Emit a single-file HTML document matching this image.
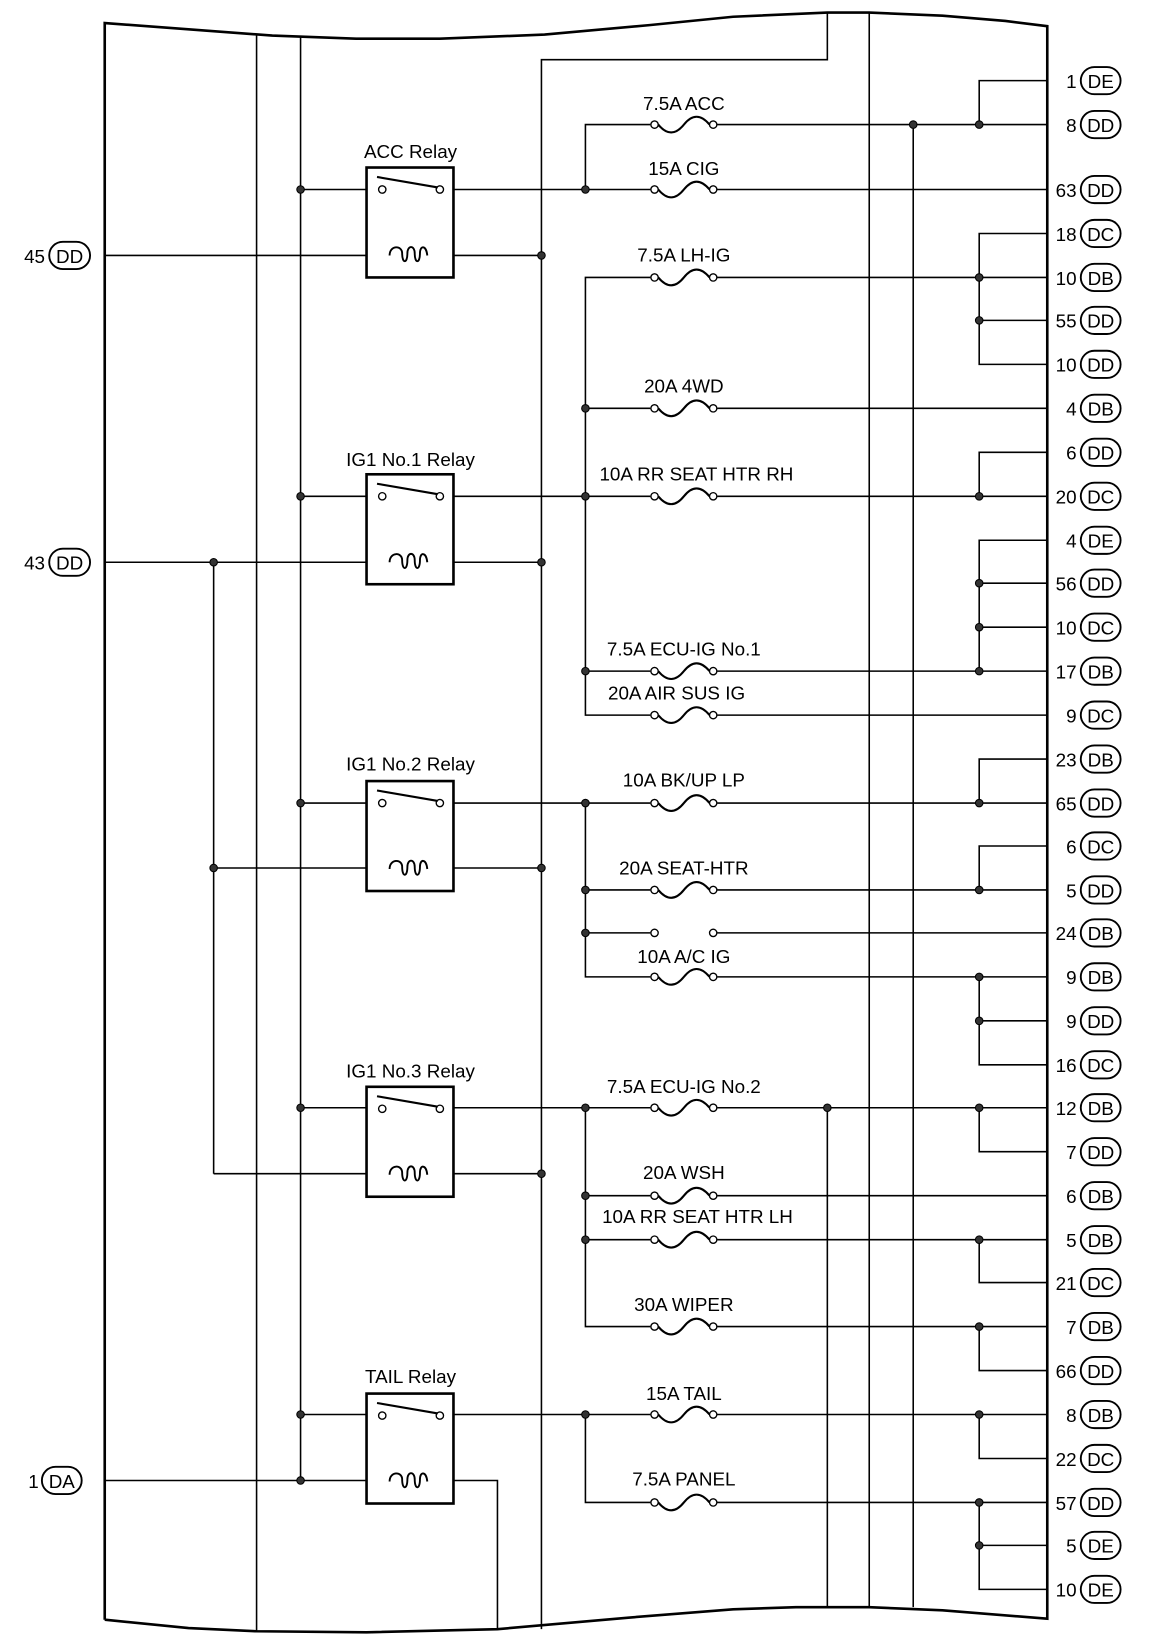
<!DOCTYPE html>
<html><head><meta charset="utf-8"><style>
html,body{margin:0;padding:0;background:#fff;width:1152px;height:1648px;overflow:hidden}
svg{display:block}
text{font-family:"Liberation Sans",sans-serif;font-size:18px;fill:#000}
</style></head><body>
<svg width="1152" height="1648" viewBox="0 0 1100 1574" preserveAspectRatio="none" xmlns="http://www.w3.org/2000/svg">
<defs>
<g id="fuse"><circle cx="625" cy="0" r="3.5" fill="#fff" stroke="#000" stroke-width="1.3"/><circle cx="681" cy="0" r="3.5" fill="#fff" stroke="#000" stroke-width="1.3"/><path d="M628.5,0 Q641,15 653,0 Q665,-15 677.5,0" fill="none" stroke="#000" stroke-width="2"/></g>
<circle id="dot" r="3.6" fill="#333" stroke="#000" stroke-width="1"/>
<g id="relay">
<rect x="350" y="0" width="83" height="105" fill="#fff" stroke="#000" stroke-width="2.5"/>
<circle cx="365" cy="21" r="3.5" fill="#fff" stroke="#000" stroke-width="1.3"/>
<circle cx="420" cy="21" r="3.5" fill="#fff" stroke="#000" stroke-width="1.3"/>
<line x1="360" y1="9" x2="418" y2="19" stroke="#000" stroke-width="2"/>
<path d="M372,84 C372,74 384,74 384,82 C384,92 389,92 389,82 C389,74 396,74 396,82 C396,92 401,92 401,82 C401,74 407,74 408,84" fill="none" stroke="#000" stroke-width="1.8"/>
</g>
</defs>
<g fill="none" stroke="#000">
<polyline stroke-width="2.5" points="100,1547 100,22 180,28 260,34 340,37 420,37 520,33 620,24 700,16 790,12 830,12 900,15 960,20 1000,25 1000,1546 900,1538 830,1535 760,1535 700,1537 600,1545 475,1556 350,1559 245,1558 180,1555 100,1547"/>
<g stroke-width="1.5">
<line x1="245" y1="33" x2="245" y2="1558"/>
<line x1="287" y1="35" x2="287" y2="1414"/>
<polyline points="517,1556 517,57 790,57 790,12"/>
<line x1="830" y1="12" x2="830" y2="1535"/>
<line x1="872" y1="119" x2="872" y2="1535"/>
<line x1="790" y1="1058" x2="790" y2="1535"/>
<line x1="204" y1="537" x2="204" y2="1121"/>
<polyline points="433,1414 475,1414 475,1556"/>
<line x1="287" y1="181" x2="361" y2="181"/><line x1="424" y1="181" x2="621" y2="181"/><line x1="685" y1="181" x2="1000" y2="181"/>
<line x1="100" y1="244" x2="372" y2="244"/><line x1="407" y1="244" x2="517" y2="244"/>
<polyline points="621,119 559,119 559,181"/><line x1="685" y1="119" x2="1000" y2="119"/>
<polyline points="935,119 935,77 1000,77"/>
<polyline points="621,265 559,265 559,683 621,683"/><line x1="685" y1="265" x2="1000" y2="265"/>
<polyline points="1000,223 935,223 935,348 1000,348"/><line x1="935" y1="306" x2="1000" y2="306"/>
<line x1="559" y1="390" x2="621" y2="390"/><line x1="685" y1="390" x2="1000" y2="390"/>
<line x1="287" y1="474" x2="361" y2="474"/><line x1="424" y1="474" x2="621" y2="474"/><line x1="685" y1="474" x2="1000" y2="474"/>
<polyline points="935,474 935,432 1000,432"/>
<line x1="100" y1="537" x2="372" y2="537"/><line x1="407" y1="537" x2="517" y2="537"/>
<polyline points="1000,516 935,516 935,641"/><line x1="935" y1="557" x2="1000" y2="557"/><line x1="935" y1="599" x2="1000" y2="599"/>
<line x1="559" y1="641" x2="621" y2="641"/><line x1="685" y1="641" x2="1000" y2="641"/>
<line x1="685" y1="683" x2="1000" y2="683"/>
<line x1="287" y1="767" x2="361" y2="767"/><line x1="424" y1="767" x2="621" y2="767"/><line x1="685" y1="767" x2="1000" y2="767"/>
<polyline points="935,767 935,725 1000,725"/>
<line x1="204" y1="829" x2="372" y2="829"/><line x1="407" y1="829" x2="517" y2="829"/>
<polyline points="559,767 559,933 621,933"/>
<line x1="559" y1="850" x2="621" y2="850"/><line x1="685" y1="850" x2="1000" y2="850"/>
<polyline points="935,850 935,808 1000,808"/>
<line x1="559" y1="891" x2="621" y2="891"/><line x1="685" y1="891" x2="1000" y2="891"/>
<line x1="685" y1="933" x2="1000" y2="933"/>
<polyline points="935,933 935,1017 1000,1017"/><line x1="935" y1="975" x2="1000" y2="975"/>
<line x1="287" y1="1058" x2="361" y2="1058"/><line x1="424" y1="1058" x2="621" y2="1058"/><line x1="685" y1="1058" x2="1000" y2="1058"/>
<polyline points="935,1058 935,1100 1000,1100"/>
<line x1="204" y1="1121" x2="372" y2="1121"/><line x1="407" y1="1121" x2="517" y2="1121"/>
<polyline points="559,1058 559,1267 621,1267"/>
<line x1="559" y1="1142" x2="621" y2="1142"/><line x1="685" y1="1142" x2="1000" y2="1142"/>
<line x1="559" y1="1184" x2="621" y2="1184"/><line x1="685" y1="1184" x2="1000" y2="1184"/>
<polyline points="935,1184 935,1225 1000,1225"/>
<line x1="685" y1="1267" x2="1000" y2="1267"/>
<polyline points="935,1267 935,1309 1000,1309"/>
<line x1="287" y1="1351" x2="361" y2="1351"/><line x1="424" y1="1351" x2="621" y2="1351"/><line x1="685" y1="1351" x2="1000" y2="1351"/>
<polyline points="935,1351 935,1393 1000,1393"/>
<line x1="100" y1="1414" x2="372" y2="1414"/>
<polyline points="559,1351 559,1435 621,1435"/><line x1="685" y1="1435" x2="1000" y2="1435"/>
<polyline points="935,1435 935,1518 1000,1518"/><line x1="935" y1="1476" x2="1000" y2="1476"/>
</g>
</g>
<use href="#relay" y="160"/><use href="#relay" y="453"/><use href="#relay" y="746"/><use href="#relay" y="1038"/><use href="#relay" y="1331"/>
<text x="392" y="151" text-anchor="middle">ACC Relay</text>
<text x="392" y="445" text-anchor="middle">IG1 No.1 Relay</text>
<text x="392" y="736" text-anchor="middle">IG1 No.2 Relay</text>
<text x="392" y="1029" text-anchor="middle">IG1 No.3 Relay</text>
<text x="392" y="1321" text-anchor="middle">TAIL Relay</text>
<use href="#fuse" y="119"/><use href="#fuse" y="181"/><use href="#fuse" y="265"/><use href="#fuse" y="390"/><use href="#fuse" y="474"/><use href="#fuse" y="641"/><use href="#fuse" y="683"/><use href="#fuse" y="767"/><use href="#fuse" y="850"/><use href="#fuse" y="933"/><use href="#fuse" y="1058"/><use href="#fuse" y="1142"/><use href="#fuse" y="1184"/><use href="#fuse" y="1267"/><use href="#fuse" y="1351"/><use href="#fuse" y="1435"/>
<circle cx="625" cy="891" r="3.5" fill="#fff" stroke="#000" stroke-width="1.3"/><circle cx="681" cy="891" r="3.5" fill="#fff" stroke="#000" stroke-width="1.3"/>
<g text-anchor="middle">
<text x="653" y="105">7.5A ACC</text>
<text x="653" y="167">15A CIG</text>
<text x="653" y="250">7.5A LH-IG</text>
<text x="653" y="375">20A 4WD</text>
<text x="665" y="459">10A RR SEAT HTR RH</text>
<text x="653" y="626">7.5A ECU-IG No.1</text>
<text x="646" y="668">20A AIR SUS IG</text>
<text x="653" y="751">10A BK/UP LP</text>
<text x="653" y="835">20A SEAT-HTR</text>
<text x="653" y="920">10A A/C IG</text>
<text x="653" y="1044">7.5A ECU-IG No.2</text>
<text x="653" y="1126">20A WSH</text>
<text x="666" y="1168">10A RR SEAT HTR LH</text>
<text x="653" y="1252">30A WIPER</text>
<text x="653" y="1337">15A TAIL</text>
<text x="653" y="1419">7.5A PANEL</text>
</g>
<g>
<use href="#dot" x="287" y="181"/><use href="#dot" x="517" y="244"/><use href="#dot" x="559" y="181"/><use href="#dot" x="872" y="119"/><use href="#dot" x="935" y="119"/>
<use href="#dot" x="935" y="265"/><use href="#dot" x="935" y="306"/><use href="#dot" x="559" y="390"/>
<use href="#dot" x="287" y="474"/><use href="#dot" x="559" y="474"/><use href="#dot" x="935" y="474"/>
<use href="#dot" x="204" y="537"/><use href="#dot" x="517" y="537"/>
<use href="#dot" x="935" y="557"/><use href="#dot" x="935" y="599"/><use href="#dot" x="935" y="641"/><use href="#dot" x="559" y="641"/>
<use href="#dot" x="287" y="767"/><use href="#dot" x="559" y="767"/><use href="#dot" x="935" y="767"/>
<use href="#dot" x="204" y="829"/><use href="#dot" x="517" y="829"/>
<use href="#dot" x="559" y="850"/><use href="#dot" x="935" y="850"/><use href="#dot" x="559" y="891"/>
<use href="#dot" x="935" y="933"/><use href="#dot" x="935" y="975"/>
<use href="#dot" x="287" y="1058"/><use href="#dot" x="559" y="1058"/><use href="#dot" x="790" y="1058"/><use href="#dot" x="935" y="1058"/>
<use href="#dot" x="517" y="1121"/>
<use href="#dot" x="559" y="1142"/><use href="#dot" x="559" y="1184"/><use href="#dot" x="935" y="1184"/><use href="#dot" x="935" y="1267"/>
<use href="#dot" x="287" y="1351"/><use href="#dot" x="559" y="1351"/><use href="#dot" x="935" y="1351"/>
<use href="#dot" x="287" y="1414"/><use href="#dot" x="935" y="1435"/><use href="#dot" x="935" y="1476"/>
</g>
<g>
<text x="43" y="251" text-anchor="end">45</text><rect x="47" y="231" width="39" height="26" rx="13" fill="#fff" stroke="#000" stroke-width="1.8"/><text x="66.5" y="251" text-anchor="middle">DD</text>
<text x="43" y="544" text-anchor="end">43</text><rect x="47" y="524" width="39" height="26" rx="13" fill="#fff" stroke="#000" stroke-width="1.8"/><text x="66.5" y="544" text-anchor="middle">DD</text>
<text x="37" y="1421" text-anchor="end">1</text><rect x="40" y="1401" width="38" height="26" rx="13" fill="#fff" stroke="#000" stroke-width="1.8"/><text x="59" y="1421" text-anchor="middle">DA</text>
</g>
<g>
<g transform="translate(0,77)"><text x="1028" y="7" text-anchor="end">1</text><rect x="1032" y="-13" width="38" height="26" rx="13" fill="#fff" stroke="#000" stroke-width="1.8"/><text x="1051" y="7" text-anchor="middle">DE</text></g>
<g transform="translate(0,119)"><text x="1028" y="7" text-anchor="end">8</text><rect x="1032" y="-13" width="38" height="26" rx="13" fill="#fff" stroke="#000" stroke-width="1.8"/><text x="1051" y="7" text-anchor="middle">DD</text></g>
<g transform="translate(0,181)"><text x="1028" y="7" text-anchor="end">63</text><rect x="1032" y="-13" width="38" height="26" rx="13" fill="#fff" stroke="#000" stroke-width="1.8"/><text x="1051" y="7" text-anchor="middle">DD</text></g>
<g transform="translate(0,223)"><text x="1028" y="7" text-anchor="end">18</text><rect x="1032" y="-13" width="38" height="26" rx="13" fill="#fff" stroke="#000" stroke-width="1.8"/><text x="1051" y="7" text-anchor="middle">DC</text></g>
<g transform="translate(0,265)"><text x="1028" y="7" text-anchor="end">10</text><rect x="1032" y="-13" width="38" height="26" rx="13" fill="#fff" stroke="#000" stroke-width="1.8"/><text x="1051" y="7" text-anchor="middle">DB</text></g>
<g transform="translate(0,306)"><text x="1028" y="7" text-anchor="end">55</text><rect x="1032" y="-13" width="38" height="26" rx="13" fill="#fff" stroke="#000" stroke-width="1.8"/><text x="1051" y="7" text-anchor="middle">DD</text></g>
<g transform="translate(0,348)"><text x="1028" y="7" text-anchor="end">10</text><rect x="1032" y="-13" width="38" height="26" rx="13" fill="#fff" stroke="#000" stroke-width="1.8"/><text x="1051" y="7" text-anchor="middle">DD</text></g>
<g transform="translate(0,390)"><text x="1028" y="7" text-anchor="end">4</text><rect x="1032" y="-13" width="38" height="26" rx="13" fill="#fff" stroke="#000" stroke-width="1.8"/><text x="1051" y="7" text-anchor="middle">DB</text></g>
<g transform="translate(0,432)"><text x="1028" y="7" text-anchor="end">6</text><rect x="1032" y="-13" width="38" height="26" rx="13" fill="#fff" stroke="#000" stroke-width="1.8"/><text x="1051" y="7" text-anchor="middle">DD</text></g>
<g transform="translate(0,474)"><text x="1028" y="7" text-anchor="end">20</text><rect x="1032" y="-13" width="38" height="26" rx="13" fill="#fff" stroke="#000" stroke-width="1.8"/><text x="1051" y="7" text-anchor="middle">DC</text></g>
<g transform="translate(0,516)"><text x="1028" y="7" text-anchor="end">4</text><rect x="1032" y="-13" width="38" height="26" rx="13" fill="#fff" stroke="#000" stroke-width="1.8"/><text x="1051" y="7" text-anchor="middle">DE</text></g>
<g transform="translate(0,557)"><text x="1028" y="7" text-anchor="end">56</text><rect x="1032" y="-13" width="38" height="26" rx="13" fill="#fff" stroke="#000" stroke-width="1.8"/><text x="1051" y="7" text-anchor="middle">DD</text></g>
<g transform="translate(0,599)"><text x="1028" y="7" text-anchor="end">10</text><rect x="1032" y="-13" width="38" height="26" rx="13" fill="#fff" stroke="#000" stroke-width="1.8"/><text x="1051" y="7" text-anchor="middle">DC</text></g>
<g transform="translate(0,641)"><text x="1028" y="7" text-anchor="end">17</text><rect x="1032" y="-13" width="38" height="26" rx="13" fill="#fff" stroke="#000" stroke-width="1.8"/><text x="1051" y="7" text-anchor="middle">DB</text></g>
<g transform="translate(0,683)"><text x="1028" y="7" text-anchor="end">9</text><rect x="1032" y="-13" width="38" height="26" rx="13" fill="#fff" stroke="#000" stroke-width="1.8"/><text x="1051" y="7" text-anchor="middle">DC</text></g>
<g transform="translate(0,725)"><text x="1028" y="7" text-anchor="end">23</text><rect x="1032" y="-13" width="38" height="26" rx="13" fill="#fff" stroke="#000" stroke-width="1.8"/><text x="1051" y="7" text-anchor="middle">DB</text></g>
<g transform="translate(0,767)"><text x="1028" y="7" text-anchor="end">65</text><rect x="1032" y="-13" width="38" height="26" rx="13" fill="#fff" stroke="#000" stroke-width="1.8"/><text x="1051" y="7" text-anchor="middle">DD</text></g>
<g transform="translate(0,808)"><text x="1028" y="7" text-anchor="end">6</text><rect x="1032" y="-13" width="38" height="26" rx="13" fill="#fff" stroke="#000" stroke-width="1.8"/><text x="1051" y="7" text-anchor="middle">DC</text></g>
<g transform="translate(0,850)"><text x="1028" y="7" text-anchor="end">5</text><rect x="1032" y="-13" width="38" height="26" rx="13" fill="#fff" stroke="#000" stroke-width="1.8"/><text x="1051" y="7" text-anchor="middle">DD</text></g>
<g transform="translate(0,891)"><text x="1028" y="7" text-anchor="end">24</text><rect x="1032" y="-13" width="38" height="26" rx="13" fill="#fff" stroke="#000" stroke-width="1.8"/><text x="1051" y="7" text-anchor="middle">DB</text></g>
<g transform="translate(0,933)"><text x="1028" y="7" text-anchor="end">9</text><rect x="1032" y="-13" width="38" height="26" rx="13" fill="#fff" stroke="#000" stroke-width="1.8"/><text x="1051" y="7" text-anchor="middle">DB</text></g>
<g transform="translate(0,975)"><text x="1028" y="7" text-anchor="end">9</text><rect x="1032" y="-13" width="38" height="26" rx="13" fill="#fff" stroke="#000" stroke-width="1.8"/><text x="1051" y="7" text-anchor="middle">DD</text></g>
<g transform="translate(0,1017)"><text x="1028" y="7" text-anchor="end">16</text><rect x="1032" y="-13" width="38" height="26" rx="13" fill="#fff" stroke="#000" stroke-width="1.8"/><text x="1051" y="7" text-anchor="middle">DC</text></g>
<g transform="translate(0,1058)"><text x="1028" y="7" text-anchor="end">12</text><rect x="1032" y="-13" width="38" height="26" rx="13" fill="#fff" stroke="#000" stroke-width="1.8"/><text x="1051" y="7" text-anchor="middle">DB</text></g>
<g transform="translate(0,1100)"><text x="1028" y="7" text-anchor="end">7</text><rect x="1032" y="-13" width="38" height="26" rx="13" fill="#fff" stroke="#000" stroke-width="1.8"/><text x="1051" y="7" text-anchor="middle">DD</text></g>
<g transform="translate(0,1142)"><text x="1028" y="7" text-anchor="end">6</text><rect x="1032" y="-13" width="38" height="26" rx="13" fill="#fff" stroke="#000" stroke-width="1.8"/><text x="1051" y="7" text-anchor="middle">DB</text></g>
<g transform="translate(0,1184)"><text x="1028" y="7" text-anchor="end">5</text><rect x="1032" y="-13" width="38" height="26" rx="13" fill="#fff" stroke="#000" stroke-width="1.8"/><text x="1051" y="7" text-anchor="middle">DB</text></g>
<g transform="translate(0,1225)"><text x="1028" y="7" text-anchor="end">21</text><rect x="1032" y="-13" width="38" height="26" rx="13" fill="#fff" stroke="#000" stroke-width="1.8"/><text x="1051" y="7" text-anchor="middle">DC</text></g>
<g transform="translate(0,1267)"><text x="1028" y="7" text-anchor="end">7</text><rect x="1032" y="-13" width="38" height="26" rx="13" fill="#fff" stroke="#000" stroke-width="1.8"/><text x="1051" y="7" text-anchor="middle">DB</text></g>
<g transform="translate(0,1309)"><text x="1028" y="7" text-anchor="end">66</text><rect x="1032" y="-13" width="38" height="26" rx="13" fill="#fff" stroke="#000" stroke-width="1.8"/><text x="1051" y="7" text-anchor="middle">DD</text></g>
<g transform="translate(0,1351)"><text x="1028" y="7" text-anchor="end">8</text><rect x="1032" y="-13" width="38" height="26" rx="13" fill="#fff" stroke="#000" stroke-width="1.8"/><text x="1051" y="7" text-anchor="middle">DB</text></g>
<g transform="translate(0,1393)"><text x="1028" y="7" text-anchor="end">22</text><rect x="1032" y="-13" width="38" height="26" rx="13" fill="#fff" stroke="#000" stroke-width="1.8"/><text x="1051" y="7" text-anchor="middle">DC</text></g>
<g transform="translate(0,1435)"><text x="1028" y="7" text-anchor="end">57</text><rect x="1032" y="-13" width="38" height="26" rx="13" fill="#fff" stroke="#000" stroke-width="1.8"/><text x="1051" y="7" text-anchor="middle">DD</text></g>
<g transform="translate(0,1476)"><text x="1028" y="7" text-anchor="end">5</text><rect x="1032" y="-13" width="38" height="26" rx="13" fill="#fff" stroke="#000" stroke-width="1.8"/><text x="1051" y="7" text-anchor="middle">DE</text></g>
<g transform="translate(0,1518)"><text x="1028" y="7" text-anchor="end">10</text><rect x="1032" y="-13" width="38" height="26" rx="13" fill="#fff" stroke="#000" stroke-width="1.8"/><text x="1051" y="7" text-anchor="middle">DE</text></g>
</g>
</svg>
</body></html>
